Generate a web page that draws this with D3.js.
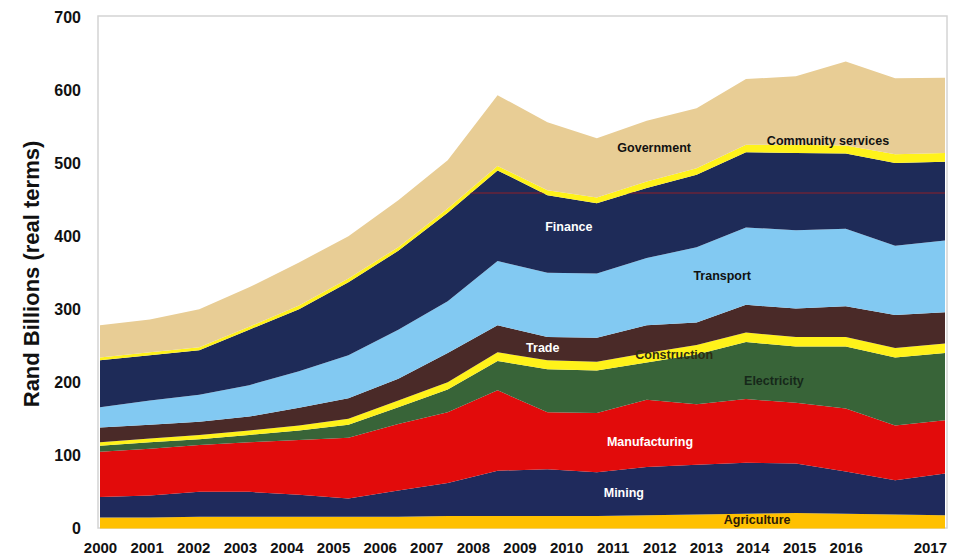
<!DOCTYPE html>
<html lang="en">
<head>
    <meta charset="UTF-8">
    <script src="https://d3js.org/d3.v7.min.js"></script>
    <title>Rand Billions by sector</title>
    <style>
        body {
            margin: 0;
            background-color: #ffffff;
        }
        svg {
            display: block;
            font-family: "Liberation Sans", Arial, sans-serif;
        }
        .lbl {
            font-weight: bold;
            font-size: 12.5px;
        }
    </style>
</head>
<body>

    <svg id="chart" width="962" height="556"></svg>

    <script>
        // periods (position of each data point on the year axis)
        const periods = [2000, 2001.07, 2002.13, 2003.2, 2004.27, 2005.33, 2006.4, 2007.46, 2008.53,
                         2009.6, 2010.66, 2011.73, 2012.8, 2013.86, 2014.93, 2016.0, 2017.06, 2018.13];

        // sector values (Rand billions, real terms), bottom to top
        const agriculture   = [15, 15, 16, 16, 16, 16, 16, 17, 17, 17, 17, 18, 19, 20, 21, 20, 19, 18];
        const mining        = [28, 30, 34, 34, 30, 25, 36, 45, 62, 64, 60, 66, 68, 70, 68, 58, 47, 57];
        const manufacturing = [62, 64, 64, 68, 75, 83, 91, 97, 110, 78, 81, 92, 83, 87, 83, 86, 75, 73];
        const electricity   = [8, 9, 8, 10, 13, 18, 23, 31, 40, 59, 58, 51, 68, 78, 77, 85, 93, 92];
        const construction  = [5, 5, 6, 6, 7, 8, 9, 10, 12, 12, 12, 13, 13, 13, 13, 13, 13, 13];
        const trade         = [20, 19, 18, 19, 24, 28, 30, 40, 37, 32, 33, 38, 31, 38, 39, 42, 45, 43];
        const transport     = [28, 33, 37, 43, 50, 59, 67, 71, 88, 88, 88, 92, 103, 106, 107, 106, 95, 98];
        const finance       = [64, 62, 61, 76, 85, 100, 108, 121, 124, 106, 96, 96, 99, 103, 106, 103, 113, 108];
        const community     = [4, 4, 4, 4, 5, 5, 5, 6, 6, 7, 8, 9, 9, 10, 11, 11, 12, 12];
        const government    = [44, 45, 52, 54, 59, 58, 64, 66, 97, 93, 81, 83, 82, 90, 94, 115, 104, 103];

        const sectors = ["Agriculture", "Mining", "Manufacturing", "Electricity", "Construction",
                         "Trade", "Transport", "Finance", "Community services", "Government"];
        const series = [agriculture, mining, manufacturing, electricity, construction,
                        trade, transport, finance, community, government];
        const colors = ["#ffc000", "#1f2a5c", "#e20b0b", "#386438", "#fff21a",
                        "#4a2a28", "#82c9f2", "#1e2b58", "#fff21a", "#e8cd95"];

        const yTicks = [0, 100, 200, 300, 400, 500, 600, 700];
        const xTickYears = [2000, 2001, 2002, 2003, 2004, 2005, 2006, 2007, 2008,
                            2009, 2010, 2011, 2012, 2013, 2014, 2015, 2016];
        const lastLabel = "2017";

        // odd horizontal line seen inside the finance band
        const refLine = 459;

        // in-chart labels: [text, year, value, colour]
        const labels = [
            ["Government", 2011.89, 515, "#111"],
            ["Community services", 2015.62, 525, "#111"],
            ["Finance", 2010.06, 407, "#ffffff"],
            ["Transport", 2013.35, 340, "#111"],
            ["Trade", 2009.5, 241, "#ffffff"],
            ["Construction", 2012.32, 232, "#2e2c12"],
            ["Electricity", 2014.46, 196, "#16281a"],
            ["Manufacturing", 2011.8, 113, "#ffffff"],
            ["Mining", 2011.24, 43, "#ffffff"],
            ["Agriculture", 2014.1, 6, "#2a1a08"]
        ];

        const svg = d3.select("#chart");

        const x = d3.scaleLinear()
            .domain([periods[0], periods[periods.length - 1]])
            .range([100, 945]);
        const y = d3.scaleLinear()
            .domain([0, 700])
            .range([528.4, 17]);

        // build table for the stack
        const table = periods.map((p, i) => {
            const row = { period: p };
            sectors.forEach((s, k) => row[s] = series[k][i]);
            return row;
        });

        const stacked = d3.stack().keys(sectors)(table);

        // frame
        svg.append("rect")
            .attr("x", 98)
            .attr("y", 16)
            .attr("width", 849)
            .attr("height", 512)
            .attr("fill", "none")
            .attr("stroke", "#d4d4d4")
            .attr("stroke-width", 1.5);

        const area = d3.area()
            .x(d => x(d.data.period))
            .y0(d => y(d[0]))
            .y1(d => y(d[1]));

        svg.append("g")
            .selectAll("path")
            .data(stacked)
            .join("path")
            .attr("d", area)
            .attr("fill", (d, i) => colors[i]);

        // clip the reference line to the finance band
        const financeLayer = stacked[sectors.indexOf("Finance")];
        svg.append("clipPath")
            .attr("id", "financeClip")
            .append("path")
            .attr("d", area(financeLayer));

        svg.append("line")
            .attr("clip-path", "url(#financeClip)")
            .attr("x1", x(periods[0]))
            .attr("x2", x(periods[periods.length - 1]))
            .attr("y1", y(refLine))
            .attr("y2", y(refLine))
            .attr("stroke", "#6a2438")
            .attr("stroke-width", 1.5);

        // labels inside the chart
        svg.append("g")
            .selectAll("text")
            .data(labels)
            .join("text")
            .attr("class", "lbl")
            .attr("x", d => x(d[1]))
            .attr("y", d => y(d[2]))
            .attr("text-anchor", "middle")
            .attr("fill", d => d[3])
            .text(d => d[0]);

        // y axis
        const yAxis = svg.append("g")
            .attr("transform", "translate(98,0)")
            .call(d3.axisLeft(y).tickValues(yTicks).tickSize(0).tickPadding(17));
        yAxis.select(".domain").remove();
        yAxis.selectAll("text")
            .attr("font-size", 16)
            .attr("font-weight", "bold")
            .attr("font-family", "'Liberation Sans', Arial, sans-serif")
            .attr("fill", "#111");

        // x axis
        const xAxis = svg.append("g")
            .attr("transform", "translate(0,528)")
            .call(d3.axisBottom(x).tickValues(xTickYears).tickFormat(d3.format("d")).tickSize(0).tickPadding(14));
        xAxis.select(".domain").remove();
        xAxis.selectAll("text")
            .attr("font-size", 15)
            .attr("font-weight", "bold")
            .attr("font-family", "'Liberation Sans', Arial, sans-serif")
            .attr("fill", "#111");

        // last period label, anchored to the chart's right edge
        svg.append("text")
            .attr("x", x(periods[periods.length - 1]) + 2)
            .attr("y", 528 + 14)
            .attr("dy", "0.71em")
            .attr("text-anchor", "end")
            .attr("font-size", 15)
            .attr("font-weight", "bold")
            .attr("fill", "#111")
            .text(lastLabel);

        // y title
        svg.append("text")
            .attr("transform", "translate(39,274) rotate(-90)")
            .attr("text-anchor", "middle")
            .attr("font-size", 22)
            .attr("font-weight", "bold")
            .attr("fill", "#111")
            .text("Rand Billions (real terms)");
    </script>

</body>
</html>
